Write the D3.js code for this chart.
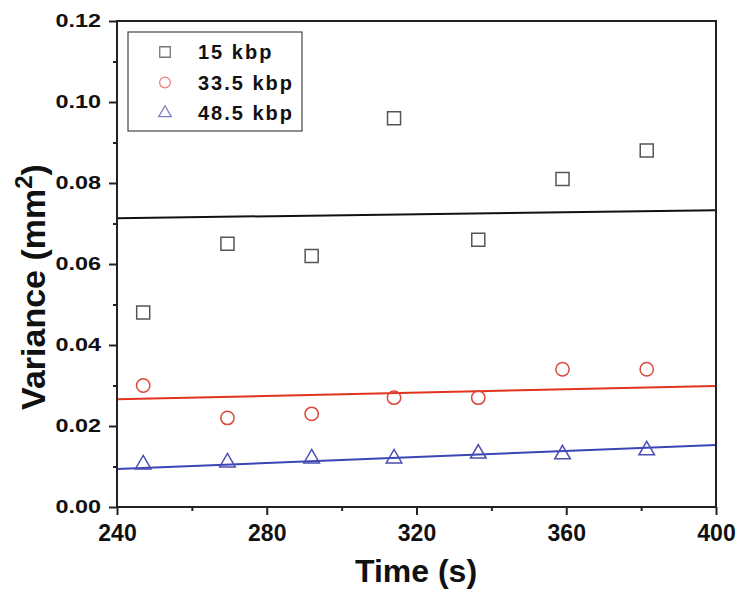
<!DOCTYPE html>
<html><head><meta charset="utf-8">
<script src="https://cdn.jsdelivr.net/npm/d3@7"></script>
<style>body{margin:0;background:#fff}</style>
</head><body>
<script>
const times = [247, 269.5, 292, 314, 336.5, 359, 381.5];
const seriesNames = ["15 kbp", "33.5 kbp", "48.5 kbp"];
const v15 = [0.048, 0.065, 0.062, 0.096, 0.066, 0.081, 0.088];
const v335 = [0.030, 0.022, 0.023, 0.027, 0.027, 0.034, 0.034];
const v485 = [0.0105, 0.011, 0.012, 0.012, 0.0132, 0.013, 0.014];
// linear fit endpoints [y at 240, y at 400]
const fit15 = [0.0713, 0.0733];
const fit335 = [0.0266, 0.0299];
const fit485 = [0.0094, 0.0153];
const xTicks = [240, 280, 320, 360, 400];
const yTicks = [0, 0.02, 0.04, 0.06, 0.08, 0.10, 0.12];

const W = 750, H = 593;
const m = {l:117, r:34, t:21, b:86};
const svg = d3.select("body").append("svg").attr("width", W).attr("height", H);
const x = d3.scaleLinear().domain([240, 400]).range([m.l, W - m.r]);
const y = d3.scaleLinear().domain([0, 0.12]).range([H - m.b, m.t]);

const font = "Arial, 'Liberation Sans', sans-serif";
const series = [
  {vals: v15, fit: fit15, sym: d3.symbolSquare, size: 170, col: "#555", lcol: "#777", line: "#111"},
  {vals: v335, fit: fit335, sym: d3.symbolCircle, size: 140, col: "#d94a3c", lcol: "#ee8080", line: "#e0341f"},
  {vals: v485, fit: fit485, sym: d3.symbolTriangle, size: 105, col: "#4b4fb0", lcol: "#8080c8", line: "#3a45b8"}
];

// fit lines
series.forEach(s => {
  svg.append("line")
    .attr("x1", x(240)).attr("y1", y(s.fit[0]))
    .attr("x2", x(400)).attr("y2", y(s.fit[1]))
    .attr("stroke", s.line).attr("stroke-width", 2);
});

// points
series.forEach(s => {
  svg.append("g").selectAll("path").data(s.vals).join("path")
    .attr("d", d3.symbol().type(s.sym).size(s.size))
    .attr("transform", (d, i) => `translate(${x(times[i])},${y(d)})`)
    .attr("fill", "none").attr("stroke", s.col).attr("stroke-width", 1.5);
});

// frame
svg.append("rect").attr("x", m.l).attr("y", m.t)
  .attr("width", W - m.r - m.l).attr("height", H - m.b - m.t)
  .attr("fill", "none").attr("stroke", "#222").attr("stroke-width", 2);

// axes
const xAxis = svg.append("g").attr("transform", `translate(0,${H - m.b})`)
  .call(d3.axisBottom(x).tickValues(xTicks).tickSize(8).tickPadding(10).tickFormat(d3.format("d")));
const xMinor = svg.append("g").attr("transform", `translate(0,${H - m.b})`)
  .call(d3.axisBottom(x).tickValues([260, 300, 340, 380]).tickSize(4).tickFormat(""));
const yAxis = svg.append("g").attr("transform", `translate(${m.l},0)`)
  .call(d3.axisLeft(y).tickValues(yTicks).tickSize(8).tickPadding(5).tickFormat(d3.format(".2f")));
const yMinor = svg.append("g").attr("transform", `translate(${m.l},0)`)
  .call(d3.axisLeft(y).tickValues([0.01, 0.03, 0.05, 0.07, 0.09, 0.11]).tickSize(4).tickFormat(""));
[xAxis, xMinor, yAxis, yMinor].forEach(g => {
  g.select(".domain").remove();
  g.selectAll("line").attr("stroke", "#222").attr("stroke-width", 2);
  g.selectAll("text").attr("font-family", font).attr("font-weight", "bold").attr("fill", "#111");
});
xAxis.selectAll("text").attr("font-size", 23);
yAxis.selectAll("text").attr("font-size", 18)
  .attr("x", -16 / 1.3).attr("transform", "scale(1.3,1)");

// titles
svg.append("text").attr("x", 416).attr("y", 582).attr("text-anchor", "middle")
  .attr("font-family", font).attr("font-weight", "bold").attr("font-size", 32).attr("fill", "#111")
  .text("Time (s)");
const yt = svg.append("text").attr("transform", `translate(45,287) rotate(-90)`)
  .attr("text-anchor", "middle").attr("font-family", font).attr("font-weight", "bold")
  .attr("font-size", 34).attr("fill", "#111");
yt.append("tspan").text("Variance (mm");
yt.append("tspan").attr("dy", -13).attr("font-size", 24).text("2");
yt.append("tspan").attr("dy", 13).text(")");

// legend
const lg = svg.append("g");
lg.append("rect").attr("x", 128).attr("y", 32).attr("width", 174).attr("height", 99)
  .attr("fill", "#fff").attr("stroke", "#444").attr("stroke-width", 1.2);
series.forEach((s, i) => {
  const cy = 52 + i * 30.5;
  lg.append("path").attr("d", d3.symbol().type(s.sym).size(s.size * 0.65)())
    .attr("transform", `translate(165,${cy})`)
    .attr("fill", "none").attr("stroke", s.lcol).attr("stroke-width", 1.3);
  lg.append("text").attr("x", 198).attr("y", cy + 7).attr("font-family", font)
    .attr("font-weight", "bold").attr("font-size", 20).attr("fill", "#111")
    .attr("letter-spacing", 2).text(seriesNames[i]);
});
</script>
</body></html>
